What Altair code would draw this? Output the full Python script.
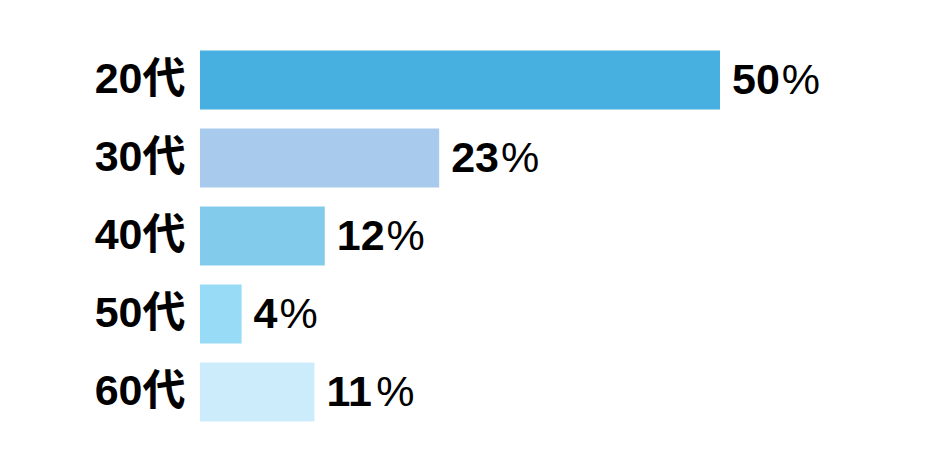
import altair as alt
import pandas as pd

categories = ["20代", "30代", "40代", "50代", "60代"]
values = [50, 23, 12, 4, 11]
colors = ["#47B0E0", "#A8CAEC", "#82CBEA", "#98DBF6", "#CCECFB"]

df = pd.DataFrame({"cat": categories, "val": values, "color": colors})
df["num"] = df["val"].astype(str)

FONT = "Liberation Sans, Arial, Noto Sans CJK JP"
PX_PER_UNIT = 624 / 60  # plot width / x domain
FS = 43
DIGIT_W = FS * 0.556

base = alt.Chart(df).encode(
    y=alt.Y("cat:N", sort=categories,
            scale=alt.Scale(paddingInner=0.244, paddingOuter=0.122),
            axis=alt.Axis(title=None, domain=False, ticks=False, labelFont=FONT,
                          labelFontSize=FS, labelFontWeight="bold", labelColor="#000000",
                          labelPadding=15)),
)

xs = alt.Scale(domain=[0, 60])

bars = base.mark_bar().encode(
    x=alt.X("val:Q", scale=xs, axis=None),
    color=alt.Color("color:N", scale=None),
)

nums = base.mark_text(align="left", baseline="middle", dx=12, dy=1, font=FONT,
                      fontSize=FS, fontWeight="bold", color="#000000").encode(
    x=alt.X("val:Q", scale=xs), text="num:N")

pct = base.mark_text(align="left", baseline="middle", dx=14, dy=1, font=FONT,
                     fontSize=FS, fontWeight="normal", color="#000000").transform_calculate(
    px=f"datum.val + length(datum.num) * {DIGIT_W} / {PX_PER_UNIT}"
).encode(x=alt.X("px:Q", scale=xs), text=alt.value("%"))

chart = alt.layer(bars, nums, pct).properties(
    width=624, height=390,
    autosize=alt.AutoSizeParams(type="none"),
    padding={"left": 192, "top": 33, "right": 96, "bottom": 20},
).configure(background="#ffffff").configure_view(strokeWidth=0)

chart.save("out.html", embed_options={"renderer": "svg", "actions": False})
